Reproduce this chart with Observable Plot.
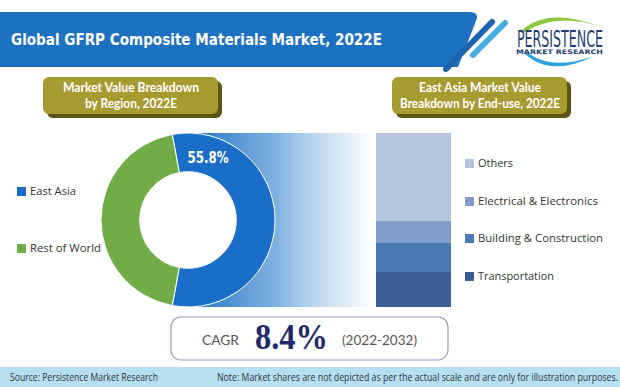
<!DOCTYPE html>
<html>
<head>
<meta charset="utf-8">
<script src="https://cdn.jsdelivr.net/npm/d3@7"></script>
<script src="https://cdn.jsdelivr.net/npm/@observablehq/plot@0.6"></script>
<style>
  html, body { margin: 0; padding: 0; background: #fff; }
  #wrap { position: relative; width: 620px; height: 387px; overflow: hidden; background: #fff; }
  #wrap svg.plotpart { position: absolute; background: transparent; max-width: none; }
  #overlay { position: absolute; left: 0; top: 0; z-index: 5; pointer-events: none; }
</style>
</head>
<body>
<div id="wrap"></div>
<script>
// ---------------- DATA ----------------
const titleText = "Global GFRP Composite Materials Market, 2022E";
const leftBannerLines = ["Market Value Breakdown", "by Region, 2022E"];
const rightBannerLines = ["East Asia Market Value", "Breakdown by End-use, 2022E"];

const regions = ["East Asia", "Rest of World"];
const regionShares = [55.8, 44.2];
const regionColors = ["#1a6ec8", "#70ad47"];
const regionLabel = "55.8%";

// bottom -> top of the stacked bar
const endUses = ["Transportation", "Building & Construction", "Electrical & Electronics", "Others"];
const endUseShares = [20.1, 16.7, 12.6, 50.6];
const endUseColors = ["#3c5f93", "#4a78b5", "#7f9ccb", "#b4c3de"];

const cagrLabel = "CAGR";
const cagrValue = "8.4%";
const cagrPeriod = "(2022-2032)";
const sourceText = "Source: Persistence Market Research";
const noteText = "Note: Market shares are not depicted as per the actual scale and are only for illustration purposes.";

// ---------------- BUILD ----------------
const wrap = document.getElementById("wrap");

// Donut + gradient band (Plot)
const unit = 87;                       // px per radius unit
const donutW = 276, donutH = 174;
const donutLeft = 100, donutTop = 133;
const xMin = -88 / unit, xMax = (donutW - 88) / unit;

const span = 2 * Math.PI * regionShares[0] / d3.sum(regionShares);
const startAngle = Math.PI / 2 - span / 2;
const innerRatio = 0.555;
const labelAngle = startAngle + 0.139 * span;
const labelR = 0.75;
const labelData = [{label: regionLabel, x: labelR * Math.sin(labelAngle), y: labelR * Math.cos(labelAngle)}];

const gradDefs = () => {
  const defs = d3.create("svg:defs");
  const lg = defs.append("linearGradient").attr("id", "eaGrad").attr("x1", 0).attr("x2", 1).attr("y1", 0).attr("y2", 0);
  [[0, "#1a6ec8"], [0.28, "#5d9ad6"], [0.47, "#80b1e0"], [0.6, "#a8cbeb"], [0.76, "#cfe2f3"], [0.94, "#f5f9fd"], [1, "#ffffff"]]
    .forEach(([o, c]) => lg.append("stop").attr("offset", o).attr("stop-color", c));
  return defs.node();
};

const donutMark = (index, scales, values, dims) => {
  const sx = scales && scales.x ? scales.x : (v) => (v - xMin) * unit;
  const sy = scales && scales.y ? scales.y : (v) => (1 - v) * unit;
  const cx = sx(0), cy = sy(0);
  const R = sy(0) - sy(1);
  const r = R * innerRatio;
  const pie = d3.pie().sort(null).startAngle(startAngle).endAngle(startAngle + 2 * Math.PI)(regionShares);
  const arc = d3.arc().innerRadius(r).outerRadius(R);
  const g = d3.create("svg:g").attr("transform", `translate(${cx},${cy})`);
  g.append("circle").attr("r", r).attr("fill", "#ffffff");
  g.selectAll("path").data(pie).join("path")
    .attr("d", arc)
    .attr("fill", (d, i) => regionColors[i])
    .attr("stroke", "#ffffff")
    .attr("stroke-width", 1);
  return g.node();
};

const donutPlot = Plot.plot({
  width: donutW, height: donutH, margin: 0,
  x: {domain: [xMin, xMax], axis: null},
  y: {domain: [-1, 1], axis: null},
  marks: [
    gradDefs,
    Plot.rect([{}], {x1: 0, x2: xMax, y1: -1, y2: 1, fill: "url(#eaGrad)"}),
    donutMark,
    Plot.text(labelData, {x: "x", y: "y", text: "label", fill: "#ffffff", fontSize: 16, fontWeight: "bold",
      fontFamily: "DejaVu Sans Condensed, DejaVu Sans", textAnchor: "middle"})
  ]
});
d3.select(donutPlot).selectAll("text").attr("textLength", 41).attr("lengthAdjust", "spacingAndGlyphs");
donutPlot.classList.add("plotpart");
donutPlot.style.left = donutLeft + "px";
donutPlot.style.top = donutTop + "px";
wrap.appendChild(donutPlot);

// Stacked bar (Plot)
const barData = endUses.map((s, i) => ({segment: s, share: endUseShares[i], group: "East Asia"}));
const barPlot = Plot.plot({
  width: 75, height: 174, margin: 0,
  x: {axis: null, padding: 0},
  y: {axis: null, domain: [0, d3.sum(endUseShares)]},
  color: {domain: endUses, range: endUseColors},
  marks: [
    Plot.barY(barData, {x: "group", y: "share", fill: "segment"})
  ]
});
barPlot.classList.add("plotpart");
barPlot.style.left = "376px";
barPlot.style.top = "133px";
wrap.appendChild(barPlot);

// ---------------- OVERLAY (titles, banners, legends, footer) ----------------
const ov = d3.select(wrap).append("svg").attr("id", "overlay").attr("width", 620).attr("height", 387);

function txt(str, x, y, o) {
  const t = ov.append("text").attr("x", x).attr("y", y).text(str)
    .attr("font-family", o.family || "Lato, sans-serif")
    .attr("font-size", o.size || 12)
    .attr("font-weight", o.weight || "normal")
    .attr("fill", o.fill || "#333")
    .attr("text-anchor", o.anchor || "start");
  if (o.len) t.attr("textLength", o.len).attr("lengthAdjust", "spacingAndGlyphs");
  return t;
}

// header bar
ov.append("path").attr("d", "M0,12 L469,12 Q480,12 476,21 L458,67 L0,67 Z").attr("fill", "#1c72c0");
ov.append("line").attr("x1", 492).attr("y1", 22).attr("x2", 446).attr("y2", 69)
  .attr("stroke", "#1c64b0").attr("stroke-width", 6).attr("stroke-linecap", "round");
ov.append("line").attr("x1", 505).attr("y1", 23).attr("x2", 473).attr("y2", 55)
  .attr("stroke", "#45aee3").attr("stroke-width", 6).attr("stroke-linecap", "round");
txt(titleText, 11, 45, {family: "DejaVu Sans, sans-serif", size: 15.5, weight: "bold", fill: "#ffffff", len: 371});

// logo
ov.append("path").attr("d", "M521,31 Q548,6 601,27 Q556,12 525,32 Z").attr("fill", "#8cc63f");
ov.append("path").attr("d", "M524,53 Q550,78 594,56 Q552,71 528,53 Z").attr("fill", "#2ba3d6");
txt("PERSISTENCE", 517, 47, {family: "DejaVu Sans Condensed, DejaVu Sans", size: 23, fill: "#1d3f72", len: 86});
txt("MARKET RESEARCH", 516, 53.5, {family: "DejaVu Sans, sans-serif", size: 6.3, weight: "bold", fill: "#1d3f72", len: 87});

// banners
function banner(x0, x1, lines, cx, lens) {
  ov.append("rect").attr("x", x0 + 4).attr("y", 81).attr("width", x1 - x0).attr("height", 37).attr("rx", 6).attr("fill", "#5b5415");
  ov.append("rect").attr("x", x0).attr("y", 77).attr("width", x1 - x0).attr("height", 37).attr("rx", 6).attr("fill", "#a69b31");
  txt(lines[0], cx, 92, {size: 12.5, weight: "bold", fill: "#ffffff", anchor: "middle", len: lens[0]});
  txt(lines[1], cx, 108, {size: 12.5, weight: "bold", fill: "#ffffff", anchor: "middle", len: lens[1]});
}
banner(43, 218, leftBannerLines, 131, [136, 92]);
banner(392, 567, rightBannerLines, 480, [122, 160]);

// left legend
const leftLegendY = [191.5, 248.5];
const leftLegendLen = [46, 71];
regions.forEach((r, i) => {
  ov.append("rect").attr("x", 17).attr("y", leftLegendY[i] - 4.5).attr("width", 9).attr("height", 9).attr("fill", regionColors[i]);
  txt(r, 30, leftLegendY[i] + 3.8, {family: "Open Sans, sans-serif", size: 11, fill: "#333", len: leftLegendLen[i]});
});

// right legend (top -> bottom: reverse of stack)
const rightLegendY = [163.5, 201.5, 238.5, 276.5];
const rightLegendLen = [35, 120, 125, 76];
endUses.slice().reverse().forEach((s, i) => {
  const k = endUses.length - 1 - i;
  ov.append("rect").attr("x", 465).attr("y", rightLegendY[i] - 4.5).attr("width", 9).attr("height", 9).attr("fill", endUseColors[k]);
  txt(s, 478, rightLegendY[i] + 3.8, {family: "Open Sans, sans-serif", size: 11, fill: "#333", len: rightLegendLen[i]});
});

// CAGR box
ov.append("rect").attr("x", 171).attr("y", 317).attr("width", 277).attr("height", 43).attr("rx", 10)
  .attr("fill", "#ffffff").attr("stroke", "#a596bf").attr("stroke-width", 1.2);
txt(cagrLabel, 202, 345, {size: 14, fill: "#555", len: 37});
txt(cagrValue, 255, 349, {family: "Liberation Serif, serif", size: 36, weight: "bold", fill: "#1f2a6b", len: 73});
txt(cagrPeriod, 342, 345, {size: 14, fill: "#555", len: 75});

// footer
ov.append("rect").attr("x", 0).attr("y", 367).attr("width", 620).attr("height", 20).attr("fill", "#b5e0f2");
txt(sourceText, 10, 380.5, {family: "Open Sans, sans-serif", size: 10, fill: "#333", len: 148});
txt(noteText, 217, 380.5, {family: "Open Sans, sans-serif", size: 10, fill: "#333", len: 401});
</script>
</body>
</html>
